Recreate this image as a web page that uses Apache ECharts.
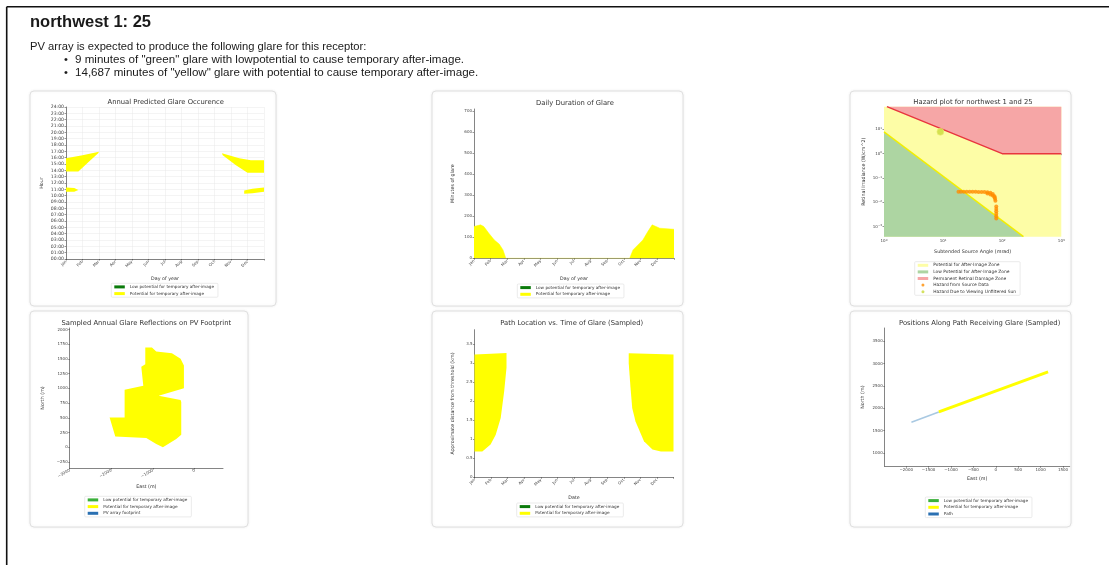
<!DOCTYPE html>
<html>
<head>
<meta charset="utf-8">
<script src="https://cdn.jsdelivr.net/npm/echarts@6/dist/echarts.min.js"></script>
<style>
  html, body { margin: 0; padding: 0; background: #fff; }
  #main { width: 1109px; height: 565px; }
</style>
</head>
<body>
<div id="main"></div>
<script>
// ---- data ----
const months = ['Jan', 'Feb', 'Mar', 'Apr', 'May', 'Jun', 'Jul', 'Aug', 'Sep', 'Oct', 'Nov', 'Dec'];

// Annual Predicted Glare Occurence: [month position, hour of day]
const annualJanEvening = [[0, 13.8], [0, 15.9], [1.0, 16.4], [2.0, 16.95], [1.95, 16.7], [1.4, 15.4], [0.75, 13.8]];
const annualJanMorning = [[0, 10.6], [0, 11.3], [0.5, 11.2], [0.75, 10.9], [0.5, 10.6]];
const annualOctEvening = [[9.45, 16.7], [10.5, 15.9], [11.2, 15.6], [12, 15.6], [12, 13.6], [11.0, 13.6], [10.3, 14.8], [9.5, 16.4]];
const annualNovMorning = [[10.8, 10.3], [10.8, 10.8], [11.3, 11.1], [12, 11.3], [12, 10.6], [11.3, 10.4]];

// Daily Duration of Glare: month position, minutes
const dailyPos = [0, 0.39, 0.59, 0.89, 1.22, 1.51, 1.74, 1.91, 9.34, 9.54, 10.13, 10.43, 10.69, 11.15, 12];
const dailyMinutes = [151, 159, 151, 119, 87, 68, 40, 0, 0, 40, 87, 127, 159, 143, 138];
const dailyTicks = [0, 100, 200, 300, 400, 500, 600, 700];

// Hazard plot: [subtended angle (mrad), retinal irradiance (W/cm^2)]
const plotBox = [[1, 0.00039], [1000, 0.00039], [1000, 85], [1, 85]];
const damageZone = [[1.12, 85], [100, 1], [1000, 1], [1000, 85]];
const lowZone = [[1, 7.9], [229, 0.00039], [1, 0.00039]];
const damageLine = [[1.12, 85], [100, 1], [1000, 1]];
const lowLine = [[1, 7.9], [229, 0.00039]];
const hazardAngle = [18.2, 20, 22.4, 25.1, 28.2, 31.6, 35.5, 39.8, 44.7, 50.1, 56.2, 63.1, 69.2, 74.1, 75.9, 76.7,
  56.2, 63.1, 69.2, 74.1, 79.4, 79.4, 79.4, 79.4, 79.4, 79.4];
const hazardIrr = [0.0275, 0.0275, 0.0275, 0.0275, 0.0275, 0.0272, 0.0272, 0.0269, 0.0269, 0.0266, 0.0263, 0.0251, 0.0219, 0.0178, 0.0141, 0.0117,
  0.023, 0.021, 0.019, 0.016, 0.0068, 0.0054, 0.0043, 0.0034, 0.0027, 0.0022];
const sunPoint = [9, 7.9];
const hazardTicksX = [0, 1, 2, 3];        // powers of ten
const hazardTicksY = [-3, -2, -1, 0, 1];  // powers of ten

// PV footprint outline: [east m, north m]
const footprint = [[-1186, 1694], [-1026, 1694], [-923, 1627], [-547, 1598], [-339, 1502], [-259, 1389], [-259, 1005],
  [-866, 875], [-339, 802], [-323, 768], [-323, 214], [-443, 141], [-763, 0], [-923, 56], [-1162, 158], [-1906, 186],
  [-2042, 508], [-1682, 508], [-1682, 977], [-1234, 1045], [-1282, 1367], [-1186, 1412]];
const footprintTicksX = [-3000, -2000, -1000, 0];
const footprintTicksY = [-250, 0, 250, 500, 750, 1000, 1250, 1500, 1750, 2000];

// Path location vs time: [month position, km]
const pathEarly = [[0, 3.23], [1.0, 3.25], [1.93, 3.27], [1.93, 2.88], [1.79, 2.26], [1.58, 1.56], [1.28, 1.12], [0.97, 0.86], [0.47, 0.68], [0, 0.68]];
const pathLate = [[9.3, 3.26], [12, 3.23], [12, 0.68], [11.24, 0.68], [10.73, 0.73], [10.22, 0.95], [9.71, 1.47], [9.51, 1.82], [9.41, 2.35], [9.3, 3.0]];
const pathTicks = [0, 0.5, 1, 1.5, 2, 2.5, 3, 3.5];

// Positions along path
const pathNoGlare = [[-1884, 1688], [-1272, 1919]];
const pathGlare = [[-1272, 1919], [1167, 2816]];
const posTicksX = [-2000, -1500, -1000, -500, 0, 500, 1000, 1500];
const posTicksY = [1000, 1500, 2000, 2500, 3000, 3500];

const LOW = 'Low potential for temporary after-image';
const POT = 'Potential for temporary after-image';
const YEL = '#ffff00', DKGREEN = '#0a7a0a', GREEN = '#3bb03b', BLUE = '#2a70b2';
const F = 'DejaVu Sans';
const HF = '"Liberation Sans"';

const lg = pts => pts.map(p => [Math.log10(p[0]), Math.log10(p[1])]);
const minus = v => String(v).replace('-', '\u2212');

function poly(name, idx, points, color, z) {
  return {
    type: 'custom', name: name, xAxisIndex: idx, yAxisIndex: idx, z: z || 2, silent: true,
    data: [points[0]],
    renderItem: function (params, api) {
      return { type: 'polygon', shape: { points: points.map(p => api.coord(p)) }, style: { fill: color } };
    }
  };
}
function empty(name) {
  return { type: 'custom', name: name, xAxisIndex: 0, yAxisIndex: 0, data: [], renderItem: function () { return null; } };
}
function ax(gridIndex, o) {
  const base = {
    gridIndex: gridIndex, type: 'value', nameLocation: 'middle',
    nameTextStyle: { fontSize: 4.8, color: '#333', fontFamily: F },
    axisLine: { show: true, onZero: false, lineStyle: { color: '#333', width: 0.6 } },
    axisTick: { show: true, length: 1.5, lineStyle: { color: '#333', width: 0.5 } },
    axisLabel: { fontSize: 4, color: '#444', margin: 2, fontFamily: F, formatter: minus },
    splitLine: { show: false }
  };
  const r = Object.assign({}, base, o);
  r.axisLabel = Object.assign({}, base.axisLabel, o.axisLabel);
  r.axisTick = Object.assign({}, base.axisTick, o.axisTick);
  return r;
}
function legendAt(left, top, items, fs, gap) {
  return {
    left: left, top: top, orient: 'vertical', selectedMode: false,
    itemWidth: 10.5, itemHeight: 3, itemGap: gap || 2.7, padding: [1.6, 4, 1.6, 3],
    borderColor: '#d6d6d6', borderWidth: 0.5, borderRadius: 1, backgroundColor: '#fff',
    textStyle: { fontSize: fs || 4.2, color: '#333', fontFamily: F },
    data: items.map(it => ({ name: it[0], icon: it[2] || 'rect', itemStyle: { color: it[1], borderWidth: 0 } }))
  };
}
const monthLabel = { formatter: v => months[v] || '', rotate: 45 };
const sup = v => '{b|10}{s|' + minus(v) + '}';
const supRich = { b: { fontSize: 4, color: '#444', fontFamily: F }, s: { fontSize: 2.8, color: '#444', fontFamily: F, padding: [0, 0, 2, 0] } };

const cards = [[30, 91, 246, 215], [432, 91, 251, 215], [850, 91, 221, 215], [30, 311, 218, 216], [432, 311, 251, 216], [850, 311, 221, 216]];
const titles = [
  ['Annual Predicted Glare Occurence', 165.7, 102.7], ['Daily Duration of Glare', 575, 103.3], ['Hazard plot for northwest 1 and 25', 973, 102],
  ['Sampled Annual Glare Reflections on PV Footprint', 146.3, 323], ['Path Location vs. Time of Glare (Sampled)', 571.7, 323], ['Positions Along Path Receiving Glare (Sampled)', 979.7, 323]
];
const headerLines = [
  ['northwest 1: 25', 30, 22, 'bold 16.5px ' + HF],
  ['PV array is expected to produce the following glare for this receptor:', 30, 46.5, '11.2px ' + HF],
  ['\u2022', 64, 59.5, '11.2px ' + HF],
  ['9 minutes of "green" glare with lowpotential to cause temporary after-image.', 75, 59.5, '11.6px ' + HF],
  ['\u2022', 64, 72.5, '11.2px ' + HF],
  ['14,687 minutes of "yellow" glare with potential to cause temporary after-image.', 75, 72.5, '11.6px ' + HF]
];

const graphic = [
  { type: 'line', z: 0, shape: { x1: 6.7, y1: 6.7, x2: 1109, y2: 6.7 }, style: { stroke: '#111', lineWidth: 1.6 } },
  { type: 'line', z: 0, shape: { x1: 6.7, y1: 6.7, x2: 6.7, y2: 565 }, style: { stroke: '#111', lineWidth: 1.6 } }
];
headerLines.forEach(h => graphic.push({ type: 'text', x: h[1], y: h[2],
  style: { text: h[0], font: h[3], fill: '#1a1a1a', verticalAlign: 'middle' } }));
cards.forEach(c => graphic.push({ type: 'rect', z: -1, shape: { x: c[0], y: c[1], width: c[2], height: c[3], r: 4 },
  style: { fill: '#fff', stroke: '#e0e0e0', lineWidth: 1, shadowBlur: 3, shadowColor: 'rgba(0,0,0,0.07)' } }));
titles.forEach(t => graphic.push({ type: 'text', x: t[1], y: t[2], z: 10,
  style: { text: t[0], fontSize: 6.8, fontFamily: F, fill: '#333', align: 'center', verticalAlign: 'middle' } }));

const option = {
  animation: false,
  backgroundColor: '#fff',
  graphic: graphic,
  grid: [
    { left: 66, top: 107, width: 198, height: 152 },
    { left: 474, top: 109, width: 200, height: 149.3 },
    { left: 884, top: 106.7, width: 177.3, height: 130 },
    { left: 69.7, top: 328, width: 153.3, height: 140 },
    { left: 474.5, top: 329.7, width: 199, height: 147.6 },
    { left: 884.7, top: 328, width: 185, height: 138.3 }
  ],
  xAxis: [
    ax(0, { min: 0, max: 12, interval: 1, name: 'Day of year', nameGap: 17.5, axisLabel: monthLabel,
      splitLine: { show: true, lineStyle: { color: '#e8e8e8', width: 0.5 } } }),
    ax(1, { min: 0, max: 12, interval: 1, name: 'Day of year', nameGap: 17.8, axisLabel: monthLabel }),
    ax(2, { min: 0, max: 3, name: 'Subtended Source Angle (mrad)', nameGap: 13, axisLine: { show: false },
      axisLabel: { customValues: hazardTicksX, formatter: sup, rich: supRich }, axisTick: { customValues: hazardTicksX } }),
    ax(3, { min: -3000, max: 679, name: 'East (m)', nameGap: 16,
      axisLabel: { customValues: footprintTicksX, rotate: 30 }, axisTick: { customValues: footprintTicksX } }),
    ax(4, { min: 0, max: 12, interval: 1, name: 'Date', nameGap: 18, axisLabel: monthLabel }),
    ax(5, { min: -2480, max: 1650, name: 'East (m)', nameGap: 10,
      axisLabel: { customValues: posTicksX }, axisTick: { customValues: posTicksX } })
  ],
  yAxis: [
    ax(0, { min: 0, max: 24, interval: 1, name: 'Hour', nameGap: 22,
      axisLabel: { fontSize: 4.6, formatter: v => (v < 10 ? '0' : '') + v + ':00' },
      splitLine: { show: true, lineStyle: { color: '#e8e8e8', width: 0.5 } } }),
    ax(1, { min: 0, max: 710, name: 'Minutes of glare', nameGap: 19,
      axisLabel: { customValues: dailyTicks }, axisTick: { customValues: dailyTicks } }),
    ax(2, { min: -3.41, max: 1.93, name: 'Retinal Irradiance (W/cm^2)', nameGap: 18, axisLine: { show: false },
      axisLabel: { customValues: hazardTicksY, formatter: sup, rich: supRich }, axisTick: { customValues: hazardTicksY } }),
    ax(3, { min: -350, max: 2025, name: 'North (m)', nameGap: 24,
      axisLabel: { customValues: footprintTicksY }, axisTick: { customValues: footprintTicksY } }),
    ax(4, { min: 0, max: 3.88, name: 'Approximate distance from threshold (km)', nameGap: 19,
      axisLabel: { customValues: pathTicks }, axisTick: { customValues: pathTicks } }),
    ax(5, { min: 700, max: 3800, name: 'North (m)', nameGap: 19,
      axisLabel: { customValues: posTicksY }, axisTick: { customValues: posTicksY } })
  ],
  legend: [
    legendAt(111.3, 283.3, [[LOW, DKGREEN], [POT, YEL]]),
    legendAt(517.3, 284, [[LOW, DKGREEN], [POT, YEL]]),
    legendAt(914.7, 261.7, [['Potential for After-Image Zone', '#fdfda6'], ['Low Potential for After-Image Zone', '#add5a2'],
      ['Permanent Retinal Damage Zone', '#f6a6a6'], ['Hazard from Source Data', '#ff8c00', 'circle'], ['Hazard Due to Viewing Unfiltered Sun', '#c9d93a', 'circle']], 4.4, 2.6),
    legendAt(84.7, 496.3, [[LOW, GREEN], [POT, YEL], ['PV array footprint', BLUE]]),
    legendAt(516.7, 503, [[LOW, DKGREEN], [POT, YEL]]),
    legendAt(925.3, 497, [[LOW, GREEN], [POT, YEL], ['Path', BLUE]])
  ],
  series: [
    empty(LOW),
    poly(POT, 0, annualJanEvening, YEL),
    poly(POT, 0, annualJanMorning, YEL),
    poly(POT, 0, annualOctEvening, YEL),
    poly(POT, 0, annualNovMorning, YEL),
    empty('PV array footprint'),
    empty('Path'),
    {
      type: 'line', name: POT + ' ', xAxisIndex: 1, yAxisIndex: 1, showSymbol: false, silent: true,
      data: dailyPos.map((p, i) => [p, dailyMinutes[i]]),
      lineStyle: { color: YEL, width: 0.5 }, areaStyle: { color: YEL, opacity: 1 }
    },
    poly('Potential for After-Image Zone', 2, lg(plotBox), '#fdfda6', 1),
    poly('Low Potential for After-Image Zone', 2, lg(lowZone), '#add5a2', 2),
    poly('Permanent Retinal Damage Zone', 2, lg(damageZone), '#f6a6a6', 2),
    { type: 'line', xAxisIndex: 2, yAxisIndex: 2, data: lg(damageLine), showSymbol: false, silent: true, z: 3,
      lineStyle: { color: '#e8363e', width: 1.4 } },
    { type: 'line', xAxisIndex: 2, yAxisIndex: 2, data: lg(lowLine), showSymbol: false, silent: true, z: 3,
      lineStyle: { color: '#f2ee00', width: 1.4 } },
    { type: 'scatter', name: 'Hazard from Source Data', xAxisIndex: 2, yAxisIndex: 2, z: 4, silent: true,
      data: lg(hazardAngle.map((a, i) => [a, hazardIrr[i]])), symbolSize: 4, itemStyle: { color: '#ff8c00' } },
    { type: 'scatter', name: 'Hazard Due to Viewing Unfiltered Sun', xAxisIndex: 2, yAxisIndex: 2, z: 5, silent: true,
      data: lg([sunPoint]), symbolSize: 7, itemStyle: { color: '#c9d93a', borderColor: '#eef07a', borderWidth: 0.8 } },
    poly(POT, 3, footprint, YEL),
    poly(POT, 4, pathEarly, YEL),
    poly(POT, 4, pathLate, YEL),
    { type: 'line', xAxisIndex: 5, yAxisIndex: 5, data: pathNoGlare, showSymbol: false, silent: true,
      lineStyle: { color: '#a9c9e2', width: 1.6 } },
    { type: 'line', xAxisIndex: 5, yAxisIndex: 5, data: pathGlare, showSymbol: false, silent: true,
      lineStyle: { color: YEL, width: 3 } }
  ]
};

const chart = echarts.init(document.getElementById('main'));
chart.setOption(option);
</script>
</body>
</html>
